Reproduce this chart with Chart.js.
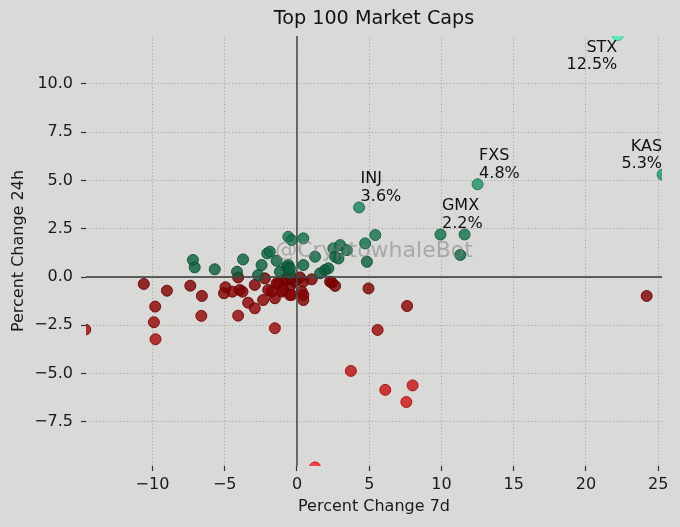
<!DOCTYPE html>
<html><head><meta charset="utf-8">
<script src="https://cdn.jsdelivr.net/npm/chart.js@4.4.1/dist/chart.umd.min.js"></script>
<style>html,body{margin:0;padding:0;background:#d9dad7;overflow:hidden;}</style>
</head><body>
<canvas id="c" width="680" height="527"></canvas>
<script>
const chartTitle = 'Top 100 Market Caps';
const xTitle = 'Percent Change 7d';
const yTitle = 'Percent Change 24h';
const watermark = '@CryptowhaleBot';
const xTickValues = [-10, -5, 0, 5, 10, 15, 20, 25];
const yTickValues = [-7.5, -5, -2.5, 0, 2.5, 5, 7.5, 10];
const xRange = [-14.6, 25.26];
const yRange = [-9.78, 12.47];

const highlightNames = ['STX', 'KAS', 'FXS', 'INJ', 'GMX'];
const highlight7d = [22.2, 25.3, 12.5, 4.3, 9.93];
const highlight24h = [12.52, 5.3, 4.8, 3.6, 2.2];

const gainers7d = [-7.2, -7.08, -5.69, -3.73, -4.15, -2.45, -2.06, -1.41, -1.18, -2.69, -0.72, -0.49,
  -0.6, -0.37, 0.44, -0.6, 0.44, 1.25, 2.52, 2.99, 2.64, 3.45, 2.87, 1.94, 2.17, 1.6, 4.72, 5.42,
  4.84, -1.88, -0.49, 11.6, 11.3];
const gainers24h = [0.88, 0.5, 0.4, 0.91, 0.27, 0.62, 1.22, 0.84, 0.27, 0.1, 0.53, 0.19,
  2.08, 1.91, 2.0, 0.62, 0.62, 1.05, 1.48, 1.65, 1.05, 1.39, 0.96, 0.36, 0.45, 0.19, 1.74, 2.17,
  0.79, 1.31, 0.45, 2.2, 1.14];

const losers7d = [-14.65, -10.6, -9.0, -9.81, -9.9, -9.79, -7.38, -6.58, -6.62, -4.95, -5.05, -4.47,
  -4.07, -3.96, -3.77, -4.07, -3.38, -2.92, -2.92, -2.22, -1.99, -2.34, -1.53, -1.3, -1.06, -1.53,
  -0.49, -0.49, -0.72, -0.14, -0.72, -0.37, 0.21, 0.44, 1.02, -1.41, -0.95, -0.37, 0.33, 0.44,
  2.29, 2.64, 2.41, 4.95, 7.62, 5.58, 3.73, 6.11, 8.0, 7.57, 1.25, 24.2, 0.44, -1.76];
const losers24h = [-2.72, -0.36, -0.71, -1.53, -2.34, -3.22, -0.45, -0.98, -2.01, -0.53, -0.84, -0.76,
  -0.02, -0.67, -0.76, -2.0, -1.33, -1.62, -0.41, -0.07, -0.67, -1.19, -1.1, -0.33, -0.76, -2.65,
  -0.5, -0.93, -0.07, -0.24, -0.15, -0.07, -0.02, -0.24, -0.12, -0.33, -0.67, -0.93, -0.76, -1.19,
  -0.24, -0.46, -0.29, -0.59, -1.5, -2.74, -4.86, -5.84, -5.61, -6.47, -9.85, -0.98, -0.93, -0.76];

function toPoints(xs, ys) { return xs.map((x, i) => ({ x: x, y: ys[i] })); }

function pointColor(v, alpha, dark) {
  let r, g, b;
  if (v >= 0) {
    const t = Math.min(v / 12.5, 1);
    r = 11 + t * 50; g = 90 + t * 150; b = 56 + t * 120;
  } else {
    const t = Math.min(-v / 9.7, 1);
    r = 122 + t * 133; g = t * 32; b = t * 32;
  }
  const k = dark ? 0.8 : 1;
  return 'rgba(' + Math.round(r * k) + ',' + Math.round(g * k) + ',' + Math.round(b * k) + ',' + alpha + ')';
}
const fillFn = ctx => ctx.raw ? pointColor(ctx.raw.y, 0.82, false) : 'rgba(0,0,0,0)';
const edgeFn = ctx => ctx.raw ? pointColor(ctx.raw.y, 0.9, true) : 'rgba(0,0,0,0)';

function fmt(v, dec) {
  return v.toFixed(dec).replace('-', '\u2212');
}

const bgPlugin = {
  id: 'bg',
  beforeDraw(chart) {
    const c = chart.ctx;
    c.save(); c.fillStyle = '#d9dad7'; c.fillRect(0, 0, chart.width, chart.height); c.restore();
  }
};

const overlayPlugin = {
  id: 'overlay',
  afterDatasetsDraw(chart) {
    const c = chart.ctx, a = chart.chartArea;
    const xs = chart.scales.x, ys = chart.scales.y;
    c.save();
    c.strokeStyle = 'rgba(70,70,70,0.85)';
    c.lineWidth = 1.8;
    const x0 = xs.getPixelForValue(0), y0 = ys.getPixelForValue(0);
    c.beginPath(); c.moveTo(x0, a.top); c.lineTo(x0, a.bottom); c.stroke();
    c.beginPath(); c.moveTo(a.left, y0); c.lineTo(a.right, y0); c.stroke();
    c.font = '22px "DejaVu Sans"';
    c.fillStyle = 'rgba(128,128,128,0.55)';
    c.textAlign = 'center'; c.textBaseline = 'middle';
    c.fillText(watermark, (a.left + a.right) / 2, (a.top + a.bottom) / 2);
    const meta = chart.getDatasetMeta(2);
    c.font = '16px "DejaVu Sans"';
    c.fillStyle = '#111';
    c.textBaseline = 'alphabetic';
    meta.data.forEach((pt, i) => {
      const right = highlight7d[i] > 20;
      c.textAlign = right ? 'right' : 'left';
      const x = pt.x + (right ? -0.5 : 1.5);
      const base2 = Math.max(pt.y - 6.5, a.top + 33);
      c.fillText(highlight24h[i].toFixed(1) + '%', x, base2);
      c.fillText(highlightNames[i], x, base2 - 17.5);
    });
    c.restore();
  }
};

Chart.defaults.font.family = '"DejaVu Sans", sans-serif';
Chart.defaults.font.size = 16;
Chart.defaults.color = '#1a1a1a';

const gridOpts = {
  color: 'rgba(165,165,165,0.95)',
  lineWidth: 1,
  tickColor: '#333',
  tickLength: 5,
  tickBorderDash: [],
  tickWidth: 1.2,
  drawOnChartArea: true,
  drawTicks: true
};
const borderOpts = { display: false, dash: [1.2, 2.2] };

new Chart(document.getElementById('c'), {
  type: 'scatter',
  data: {
    datasets: [
      { data: toPoints(gainers7d, gainers24h), backgroundColor: fillFn, borderColor: edgeFn, clip: 0 },
      { data: toPoints(losers7d, losers24h), backgroundColor: fillFn, borderColor: edgeFn, clip: 0 },
      { data: toPoints(highlight7d, highlight24h), backgroundColor: fillFn, borderColor: edgeFn, clip: 0 }
    ]
  },
  options: {
    responsive: false,
    animation: false,
    devicePixelRatio: 1,
    layout: { padding: { left: 0, right: 18, top: 0, bottom: 0 } },
    elements: { point: { radius: 5.5, borderWidth: 1, hoverRadius: 5.5 } },
    plugins: {
      legend: { display: false },
      tooltip: { enabled: false },
      title: {
        display: true, text: chartTitle, fullSize: false,
        font: { size: 19.2, weight: 'normal' }, color: '#111',
        padding: { top: 7.5, bottom: 5.5 }
      }
    },
    scales: {
      x: {
        type: 'linear', min: xRange[0], max: xRange[1],
        grid: gridOpts,
        border: borderOpts,
        afterBuildTicks: s => { s.ticks = xTickValues.map(v => ({ value: v })); },
        afterFit: s => { s.height = 61; },
        ticks: { padding: 4, color: '#1a1a1a', maxRotation: 0, autoSkip: false,
          callback: v => fmt(v, 0) },
        title: { display: true, text: xTitle, color: '#1a1a1a', font: { size: 16 },
          padding: { top: 0, bottom: 10.4 } }
      },
      y: {
        type: 'linear', min: yRange[0], max: yRange[1],
        grid: gridOpts,
        border: borderOpts,
        afterBuildTicks: s => { s.ticks = yTickValues.map(v => ({ value: v })); },
        afterFit: s => { s.width = 86; },
        ticks: { padding: 8, color: '#1a1a1a', autoSkip: false,
          callback: v => fmt(v, 1) },
        title: { display: true, text: yTitle, color: '#1a1a1a', font: { size: 16 },
          padding: { top: 9.4, bottom: 0 } }
      }
    }
  },
  plugins: [bgPlugin, overlayPlugin]
});
</script>
</body></html>
